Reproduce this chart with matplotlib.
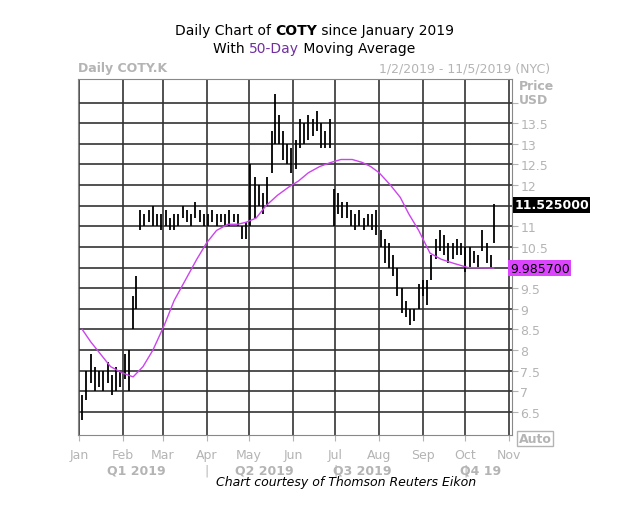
import numpy as np
import matplotlib.pyplot as plt

# day of year (Jan 1 = 0), daily low / high
bar_days = [2, 5, 8, 11, 14, 17, 20, 23, 26, 29, 32, 35, 38, 40, 43, 46, 49, 52, 55, 58,
            61, 64, 67, 70, 73, 76, 79, 82, 85, 88, 91, 94, 97, 100, 103, 106, 109, 112, 115, 118,
            121, 124, 127, 130, 133, 136, 138, 141, 144, 147, 150, 153, 156, 159, 162, 165, 168, 171, 174, 177,
            180, 183, 186, 189, 192, 195, 198, 201, 204, 207, 210, 213, 216, 219, 222, 225, 228, 231, 234, 237,
            240, 243, 246, 249, 252, 255, 258, 261, 264, 267, 270, 273, 276, 279, 282, 285, 288, 291, 293]
bar_low = [6.3, 6.8, 7.2, 7.0, 7.1, 7.0, 7.2, 6.9, 7.0, 7.1, 7.3, 7.0, 8.5, 9.0, 10.9, 11.0, 11.1, 11.0, 11.0, 10.9,
           11.0, 10.9, 10.9, 11.0, 11.2, 11.1, 11.0, 11.2, 11.1, 11.0, 11.0, 11.1, 11.0, 11.1, 11.0, 11.0, 11.1, 11.0, 10.7, 10.7,
           11.0, 11.2, 11.5, 11.3, 11.5, 12.3, 13.0, 13.0, 12.6, 12.5, 12.3, 12.4, 12.9, 13.0, 13.1, 13.2, 13.3, 12.9, 12.9, 12.9,
           11.0, 11.3, 11.2, 11.2, 11.0, 10.9, 11.0, 10.9, 11.0, 10.9, 10.8, 10.5, 10.1, 10.0, 9.8, 9.3, 8.9, 8.8, 8.6, 8.7,
           9.0, 9.3, 9.1, 9.7, 10.2, 10.4, 10.3, 10.1, 10.2, 10.3, 10.3, 9.9, 10.0, 10.1, 10.0, 10.4, 10.1, 10.0, 10.6]
bar_high = [6.9, 7.5, 7.9, 7.6, 7.5, 7.5, 7.7, 7.4, 7.6, 7.5, 7.9, 8.0, 9.3, 9.8, 11.4, 11.3, 11.4, 11.5, 11.3, 11.3,
            11.4, 11.2, 11.3, 11.3, 11.5, 11.4, 11.3, 11.6, 11.4, 11.3, 11.3, 11.4, 11.3, 11.3, 11.3, 11.4, 11.3, 11.3, 11.0, 11.1,
            12.5, 12.2, 12.0, 11.8, 12.2, 13.3, 14.2, 13.7, 13.3, 13.0, 12.9, 13.1, 13.6, 13.5, 13.7, 13.6, 13.8, 13.5, 13.3, 13.6,
            11.9, 11.8, 11.6, 11.6, 11.4, 11.3, 11.4, 11.2, 11.3, 11.3, 11.4, 10.9, 10.7, 10.6, 10.3, 10.0, 9.5, 9.2, 9.0, 9.0,
            9.6, 9.7, 9.7, 10.3, 10.7, 10.9, 10.8, 10.6, 10.6, 10.7, 10.6, 10.5, 10.5, 10.4, 10.3, 10.9, 10.6, 10.3, 11.55]

ma_days = [2, 8, 15, 22, 30, 38, 45, 52, 60, 67, 75, 83, 90, 97, 105, 112, 118, 125, 132, 140,
           148, 155, 162, 170, 178, 185, 193, 200, 206, 212, 220, 227, 233, 240, 248, 256, 265, 275, 293]
ma_vals = [8.5, 8.2, 7.9, 7.6, 7.45, 7.35, 7.6, 8.0, 8.6, 9.2, 9.7, 10.2, 10.6, 10.9, 11.05, 11.05, 11.1, 11.2, 11.5, 11.75,
           11.95, 12.1, 12.3, 12.45, 12.55, 12.62, 12.62, 12.55, 12.45, 12.3, 12.0, 11.7, 11.3, 10.9, 10.35, 10.2, 10.1, 10.0, 9.99]

month_days = [0, 31, 59, 90, 120, 151, 181, 212, 243, 273, 304]
month_labels = ['Jan', 'Feb', 'Mar', 'Apr', 'May', 'Jun', 'Jul', 'Aug', 'Sep', 'Oct', 'Nov']
quarters = [(40, 'Q1 2019'), (131, 'Q2 2019'), (200, 'Q3 2019'), (284, 'Q4 19')]
quarter_breaks = [90, 181, 273]
price_ticks = np.arange(6.5, 14.0, 0.5)
last_price = 11.525
last_ma = 9.9857

grey = '#b4b4b4'
fig = plt.figure(figsize=(6.29, 5.10), dpi=100)
ax = fig.add_axes([0.124, 0.145, 0.690, 0.698])

ax.vlines(bar_days, bar_low, bar_high, color='black', lw=1.3)
ax.plot(ma_days, ma_vals, color='#cc44ee', lw=1)

ax.set_xlim(-1, 306)
ax.set_ylim(5.94, 14.57)
ax.set_xticks(month_days)
ax.set_xticklabels([])
ax.set_yticks(list(price_ticks) + [14.0])
ax.yaxis.tick_right()
labels = ['' if v in (10.0, 11.5) else f'{v:g}' for v in price_ticks] + ['']
ax.set_yticklabels(labels, color=grey, fontsize=9)
ax.tick_params(axis='y', length=4, color=grey, pad=2)
ax.tick_params(axis='x', length=4, color=grey)
ax.grid(True, color='#333333', lw=1.2)
for s in ax.spines.values():
    s.set_color('#888888')

xt = ax.get_xaxis_transform()
for d, m in zip(month_days, month_labels):
    ax.text(d, -0.035, m, transform=xt, ha='center', va='top', color=grey, fontsize=9)
for d, q in quarters:
    ax.text(d, -0.08, q, transform=xt, ha='center', va='top', color=grey, fontsize=9, fontweight='bold')
for d in quarter_breaks:
    ax.text(d, -0.08, '|', transform=xt, ha='center', va='top', color=grey, fontsize=9)

ax.text(1.005, last_price, f'{last_price:.6f}', transform=ax.get_yaxis_transform(), va='center',
        ha='left', color='white', fontsize=9, fontweight='bold',
        bbox=dict(facecolor='black', edgecolor='none', pad=1))
ax.text(0.995, last_ma, f'{last_ma:.6f}', transform=ax.get_yaxis_transform(), va='center',
        ha='left', color='black', fontsize=9,
        bbox=dict(facecolor='#dd44ff', edgecolor='none', pad=1))
ax.text(1.015, 1.0, 'Price\nUSD', transform=ax.transAxes, va='top', ha='left', color=grey,
        fontsize=9, fontweight='bold', linespacing=1.1)
ax.text(1.015, -0.01, 'Auto', transform=ax.transAxes, va='center', ha='left', color=grey,
        fontsize=9, fontweight='bold', bbox=dict(facecolor='white', edgecolor=grey, pad=1))

fig.text(0.124, 0.858, 'Daily COTY.K', color=grey, fontsize=9, fontweight='bold')
fig.text(0.875, 0.858, '1/2/2019 - 11/5/2019 (NYC)', color=grey, fontsize=9, ha='right')


def centred_line(parts, y):
    # parts: (text, kwargs); lay them end to end, centred on the figure
    r = fig.canvas.get_renderer()
    texts = [fig.text(0, y, s, fontsize=10, **kw) for s, kw in parts]
    widths = [t.get_window_extent(r).width for t in texts]
    x = (fig.bbox.width - sum(widths)) / 2
    for t, w in zip(texts, widths):
        t.set_x(x / fig.bbox.width)
        x += w


centred_line([('Daily Chart of ', {}), ('COTY', {'fontweight': 'bold'}),
              (' since January 2019', {})], 0.932)
centred_line([('With ', {}), ('50-Day', {'color': '#7030a0'}),
              (' Moving Average', {})], 0.897)

fig.text(0.55, 0.047, 'Chart courtesy of Thomson Reuters Eikon', ha='center', fontsize=9, style='italic')

fig.savefig('out.png', dpi=100)
